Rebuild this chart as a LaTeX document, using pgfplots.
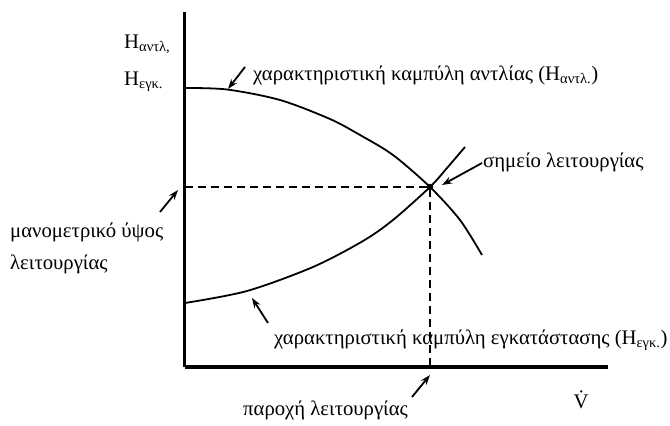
\documentclass[border=0pt]{standalone}
\usepackage{pgfplots}
\pgfplotsset{compat=1.18}
\usepackage{fontspec}
\setmainfont{Liberation Serif}
\usetikzlibrary{arrows.meta}
\tikzset{lbl/.style={font=\fontsize{20.8}{32}\selectfont, inner sep=0pt},
  arr/.style={line width=1.8bp, -{Stealth[length=10bp,width=7bp]}}}
\begin{document}
\begin{tikzpicture}
\begin{axis}[
  scale only axis, width=423bp, height=355bp,
  xmin=0, xmax=423, ymin=0, ymax=355,
  axis lines=left, axis line style={line width=3bp, -},
  xtick=\empty, ytick=\empty,
  clip=false,
]
% pump curve
\addplot[line width=1.8bp, smooth] coordinates {
 (0,279) (42,277.5) (95,267) (145,248) (175,232) (208,212) (245,180) (275,147) (297,112)};
% system curve
\addplot[line width=1.8bp, smooth] coordinates {
 (0,64) (62,76) (128,100) (178,126) (208,147) (245,180) (262,199) (280,220)};
% dashed guides
\addplot[line width=2.5bp, dash pattern=on 8bp off 5bp] coordinates {(0,180) (245,180) (245,0)};
% operating point
\addplot[only marks, mark=*, mark size=3bp] coordinates {(245,180)};
% labels
\node[lbl, anchor=west] at (axis cs:-61,323) {H\textsubscript{αντλ,}};
\node[lbl, anchor=west] at (axis cs:-61,285) {H\textsubscript{εγκ.}};
\node[lbl, anchor=west] at (axis cs:68,292) {χαρακτηριστική καμπύλη αντλίας (H\textsubscript{αντλ.})};
\node[lbl, anchor=west] at (axis cs:298,205) {σημείο λειτουργίας};
\node[lbl, anchor=west, align=left] at (axis cs:-175,119) {μανομετρικό ύψος\\λειτουργίας};
\node[lbl, anchor=west] at (axis cs:89,27) {χαρακτηριστική καμπύλη εγκατάστασης (H\textsubscript{εγκ.})};
\node[lbl, anchor=west] at (axis cs:58,-43) {παροχή λειτουργίας};
\node[lbl] at (axis cs:396,-33) {V̇};
% arrows
\draw[arr] (axis cs:60,300) -- (axis cs:43,278);
\draw[arr] (axis cs:297,204) -- (axis cs:257,182);
\draw[arr] (axis cs:-25,155) -- (axis cs:-7,177);
\draw[arr] (axis cs:83,44) -- (axis cs:67,69);
\draw[arr] (axis cs:227,-30) -- (axis cs:245,-8);
\coordinate (bl) at (axis cs:-185,-59);
\coordinate (tr) at (axis cs:485,367);
\end{axis}
\pgfresetboundingbox
\path (bl) rectangle (tr);
\end{tikzpicture}
\end{document}
